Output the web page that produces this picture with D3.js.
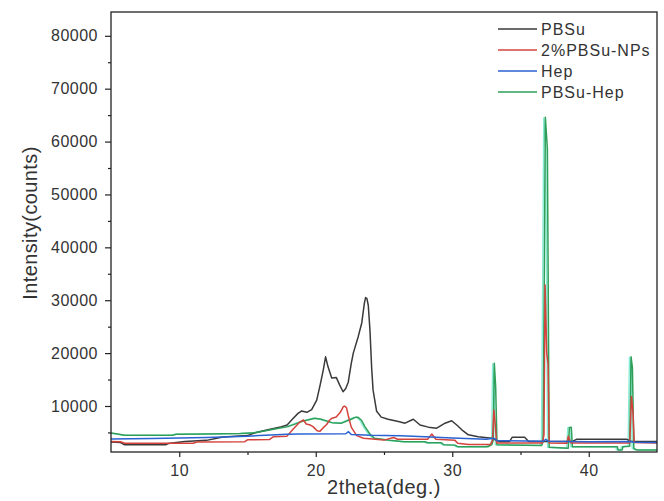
<!DOCTYPE html>
<html>
<head>
<meta charset="utf-8">
<script src="https://cdn.jsdelivr.net/npm/d3@7"></script>
<style>
  html, body { margin: 0; padding: 0; background: #fff; }
  svg { display: block; }
  text { font-family: "Liberation Sans", Arial, sans-serif; fill: #333; }
</style>
</head>
<body>
<svg id="chart" width="664" height="501"></svg>
<script>
// XRD patterns: [2theta (deg.), intensity (counts)]
const pbsu = [
  [5.0, 3200], [5.7, 3100], [6.0, 2650], [9.0, 2650], [9.2, 2900], [10.4, 3300],
  [12.0, 3500], [13.2, 4150], [15.0, 4400], [15.5, 4900], [16.5, 5500], [17.5, 6100],
  [17.9, 6400], [18.25, 7400], [18.7, 8600], [18.95, 9050], [19.35, 8800], [19.7, 9300],
  [20.07, 11100], [20.3, 13700], [20.55, 16800], [20.72, 19300], [20.9, 17400],
  [21.17, 15300], [21.5, 15400], [21.75, 14000], [22.0, 12700], [22.2, 13300],
  [22.38, 14500], [22.6, 18000], [22.75, 20000], [23.12, 23200], [23.37, 25700],
  [23.56, 29400], [23.65, 30500], [23.75, 30300], [23.85, 29000], [23.97, 24400],
  [24.1, 17000], [24.2, 13000], [24.46, 9000], [24.8, 7900], [25.3, 7500],
  [26.05, 7050], [26.54, 6750], [27.15, 7500], [27.64, 6400], [28.25, 6000],
  [28.86, 5800], [29.47, 6750], [29.96, 7200], [30.33, 6400], [30.7, 5500],
  [31.18, 4550], [31.9, 4200], [32.9, 3900], [33.5, 3250], [34.2, 3300], [34.4, 4100],
  [35.3, 4100], [35.6, 3300], [38.8, 3300], [39.1, 3700], [42.8, 3700], [43.1, 3300],
  [45.0, 3300]
];

const pbsuNps = [
  [5.0, 3300], [5.7, 3250], [6.0, 2950], [11.0, 2950], [11.3, 3200], [14.8, 3250],
  [15.0, 3600], [16.6, 3650], [16.9, 4200], [17.9, 4300], [18.3, 5500], [18.85, 7000],
  [19.1, 7350], [19.3, 6600], [19.6, 6400], [19.8, 6100], [20.1, 5300], [20.3, 5200],
  [20.55, 5900], [20.8, 6500], [21.0, 7300], [21.2, 7700], [21.5, 7900], [21.8, 8800],
  [22.0, 9800], [22.1, 10000], [22.25, 9700], [22.38, 8200], [22.6, 6000], [23.0, 4400],
  [23.5, 3900], [25.0, 3550], [25.7, 4050], [26.0, 3700], [28.2, 3700], [28.5, 4700],
  [28.8, 3700], [30.2, 3500], [30.4, 2950], [31.2, 2700], [32.8, 2700], [32.95, 3500],
  [33.05, 9250], [33.15, 6500], [33.25, 3000], [36.6, 3000], [36.72, 4500],
  [36.8, 32900], [36.92, 20000], [37.02, 18000], [37.1, 3000], [38.4, 2950],
  [38.5, 4300], [38.7, 3000], [43.0, 3000], [43.13, 11800], [43.25, 8500],
  [43.33, 3100], [45.0, 3000]
];

const hep = [
  [5.0, 3750], [8.0, 3850], [10.0, 3950], [12.0, 4050], [15.0, 4300], [17.9, 4650],
  [18.8, 4700], [22.2, 4750], [22.4, 5150], [22.6, 4600], [24.0, 4450], [26.2, 4350],
  [28.0, 4200], [30.0, 3950], [32.5, 3700], [33.05, 3900], [33.3, 3450], [36.7, 3350],
  [36.85, 3700], [37.0, 3350], [40.0, 3250], [43.1, 3300], [43.3, 3150], [45.0, 3100]
];

const pbsuHep = [
  [5.0, 4900], [5.5, 4700], [6.0, 4450], [9.5, 4450], [9.8, 4650], [12.0, 4700],
  [14.5, 4800], [15.55, 4950], [17.0, 5650], [17.97, 6100], [18.97, 7050], [19.95, 7700],
  [20.4, 7500], [21.2, 6850], [21.9, 6750], [22.6, 7500], [22.9, 7850], [23.1, 7850],
  [23.35, 7300], [23.6, 6100], [23.97, 4700], [24.3, 3900], [25.4, 3500], [26.5, 3250],
  [28.0, 3250], [28.2, 3050], [29.2, 3050], [29.4, 2650], [30.2, 2600], [30.4, 2300],
  [32.6, 2300], [32.9, 2700], [33.0, 3500], [33.08, 18100], [33.18, 13700],
  [33.28, 2650], [36.55, 2550], [36.65, 3200], [36.75, 36700], [36.82, 64600],
  [36.97, 58600], [37.1, 2200], [38.5, 2000], [38.58, 5900], [38.72, 6000],
  [38.8, 2300], [42.1, 2300], [42.15, 1700], [42.45, 1700], [42.5, 2300], [43.0, 2400],
  [43.1, 19300], [43.2, 17200], [43.3, 2000], [43.5, 1700], [45.0, 1700]
];

const seriesNames = ["PBSu", "2%PBSu-NPs", "Hep", "PBSu-Hep"];
const seriesData = [pbsu, pbsuNps, hep, pbsuHep];
const seriesColors = ["#3a3a3a", "#d4433c", "#2a62d2", "#2e9e58"];
const drawOrder = [0, 3, 1, 2];

const xMajorTicks = [10, 20, 30, 40];
const xMinorTicks = [15, 25, 35];
const yMajorTicks = [10000, 20000, 30000, 40000, 50000, 60000, 70000, 80000];
const yMinorTicks = [5000, 15000, 25000, 35000, 45000, 55000, 65000, 75000];

const svg = d3.select("#chart");
const plot = { left: 111, right: 657, top: 12, bottom: 452 };

const x = d3.scaleLinear().domain([5, 45]).range([plot.left, plot.right]);
const y = d3.scaleLinear().domain([1300, 84500]).range([plot.bottom, plot.top]);

const clip = svg.append("clipPath").attr("id", "plotClip")
  .append("rect")
  .attr("x", plot.left).attr("y", plot.top)
  .attr("width", plot.right - plot.left).attr("height", plot.bottom - plot.top);

const line = d3.line().x(d => x(d[0])).y(d => y(d[1]));

const curves = svg.append("g").attr("clip-path", "url(#plotClip)");

// soft cyan edge that sits under the PBSu-Hep trace
curves.append("path")
  .datum(pbsuHep)
  .attr("d", line)
  .attr("fill", "none")
  .attr("stroke", "#86ecd6")
  .attr("stroke-width", 1.4)
  .attr("transform", "translate(-1.6,0)");

drawOrder.forEach(i => {
  curves.append("path")
    .datum(seriesData[i])
    .attr("d", line)
    .attr("fill", "none")
    .attr("stroke", seriesColors[i])
    .attr("stroke-width", 1.5)
    .attr("stroke-linejoin", "round");
});

// axes
function styleAxis(g) {
  g.select(".domain").remove();
  g.selectAll(".tick line").attr("stroke", "#222").attr("stroke-width", 1.2);
  g.selectAll(".tick text")
    .style("font-size", "16px")
    .style("letter-spacing", "0.5px")
    .attr("fill", "#333");
}

svg.append("g")
  .attr("transform", `translate(0,${plot.bottom})`)
  .call(d3.axisBottom(x).tickValues(xMajorTicks).tickSize(5).tickPadding(8).tickFormat(d3.format("d")))
  .call(styleAxis);

svg.append("g")
  .attr("transform", `translate(0,${plot.bottom})`)
  .call(d3.axisBottom(x).tickValues(xMinorTicks).tickSize(3).tickFormat(""))
  .call(styleAxis);

svg.append("g")
  .attr("transform", `translate(${plot.left},0)`)
  .call(d3.axisLeft(y).tickValues(yMajorTicks).tickSize(6).tickPadding(7).tickFormat(d3.format("d")))
  .call(styleAxis);

svg.append("g")
  .attr("transform", `translate(${plot.left},0)`)
  .call(d3.axisLeft(y).tickValues(yMinorTicks).tickSize(3).tickFormat(""))
  .call(styleAxis);

// frame
svg.append("rect")
  .attr("x", plot.left).attr("y", plot.top)
  .attr("width", plot.right - plot.left).attr("height", plot.bottom - plot.top)
  .attr("fill", "none")
  .attr("stroke", "#222")
  .attr("stroke-width", 1.3);

// axis titles
svg.append("text")
  .attr("x", (plot.left + plot.right) / 2)
  .attr("y", 494)
  .attr("text-anchor", "middle")
  .style("font-size", "20px")
  .style("letter-spacing", "0.5px")
  .text("2theta(deg.)");

svg.append("text")
  .attr("transform", "translate(37,223) rotate(-90)")
  .attr("text-anchor", "middle")
  .style("font-size", "20px")
  .style("letter-spacing", "0.4px")
  .text("Intensity(counts)");

// legend
const legend = svg.append("g");
seriesNames.forEach((name, i) => {
  const cy = 29 + i * 21;
  legend.append("line")
    .attr("x1", 498).attr("x2", 537)
    .attr("y1", cy).attr("y2", cy)
    .attr("stroke", seriesColors[i])
    .attr("stroke-width", 1.5);
  legend.append("text")
    .attr("x", 541).attr("y", cy)
    .attr("dy", "0.36em")
    .style("font-size", "16px")
    .style("letter-spacing", "1px")
    .text(name);
});
</script>
</body>
</html>
